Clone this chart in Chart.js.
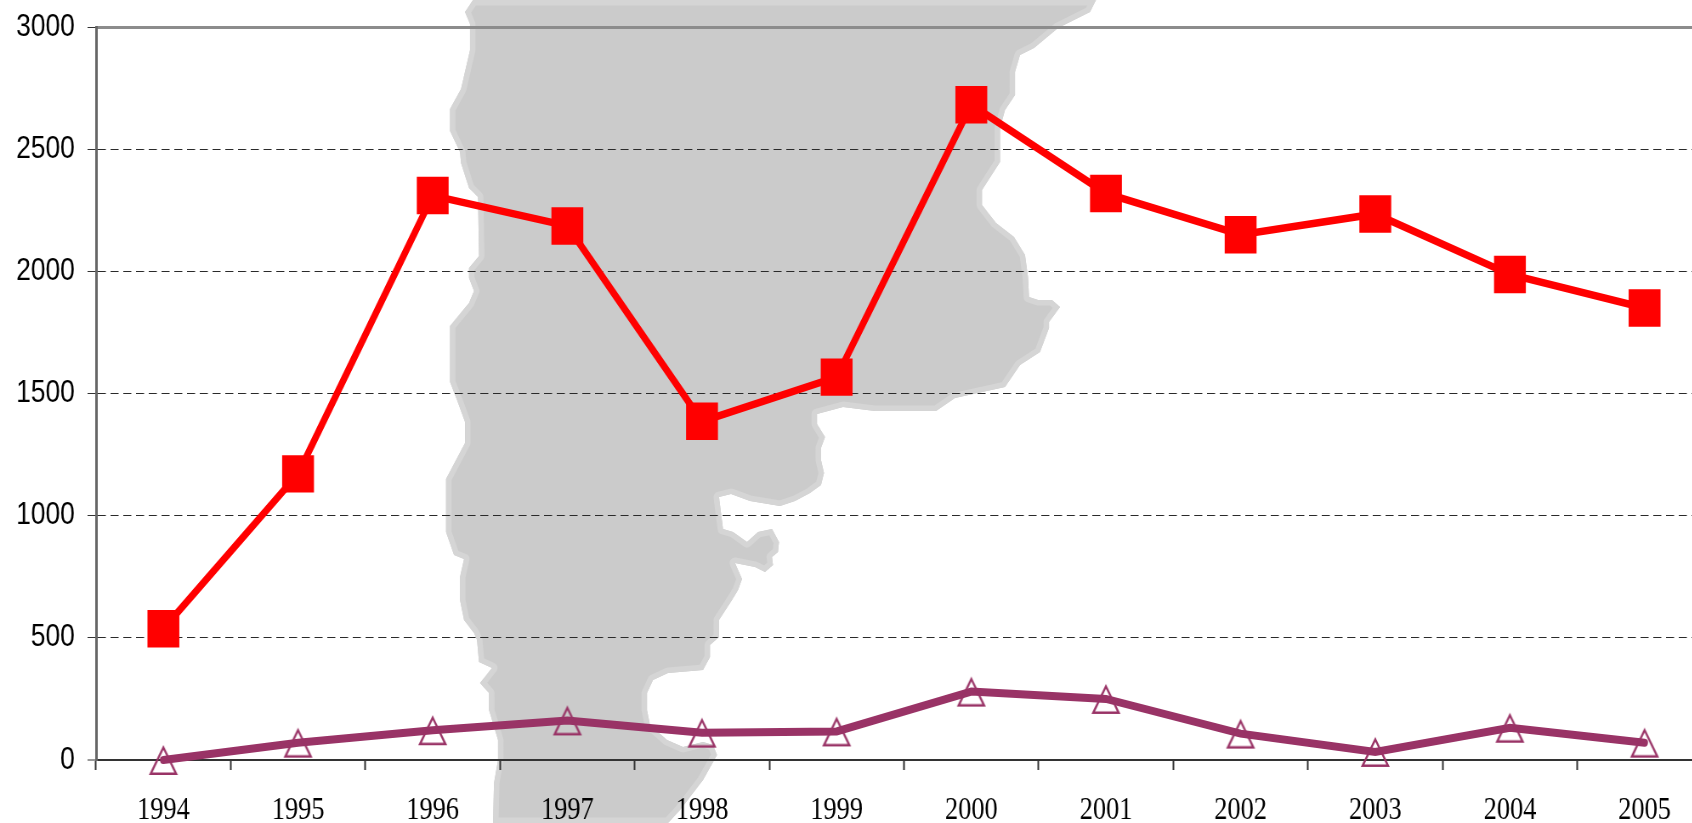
<!DOCTYPE html>
<html>
<head>
<meta charset="utf-8">
<style>
html,body{margin:0;padding:0;background:#fff;width:1692px;height:823px;overflow:hidden}
#wrap{position:absolute;left:0;top:0;width:1692px;height:823px;overflow:hidden}
canvas{position:absolute;left:0;top:0;transform-origin:0 0;transform:scaleX(0.85)}
</style>
<script src="https://cdn.jsdelivr.net/npm/chart.js@4"></script>
</head>
<body>
<div id="wrap"><canvas id="c" width="2014" height="823"></canvas></div>
<script>
const years = ['1994','1995','1996','1997','1998','1999','2000','2001','2002','2003','2004','2005'];
const redValues = [537,1171,2310,2186,1386,1567,2682,2319,2150,2235,1987,1850];
const purpleValues = [0,71,122,162,112,117,280,250,108,33,132,71];
const yMin = 0, yMax = 3000, yStep = 500;

// Decorative backdrop silhouette (image pixels), not chart data
const mapOutline = [[473,0],[465,12],[470,24],[470,50],[461,89],[450,109],[450,131],[460,152],[461,163],[469,188],[478,197],[479,256],[469,268],[469,278],[474,291],[469,303],[450,326],[450,382],[457,400],[465,422],[465,443],[446,479],[446,532],[454,555],[464,559],[460,577],[460,600],[464,620],[474,633],[477,640],[479,662],[492,668],[480,683],[489,693],[489,710],[498,740],[498,760],[494,783],[493,823],[668,823],[680,810],[703,780],[717,755],[713,745],[703,742],[683,747],[667,740],[650,725],[647,710],[647,693],[653,680],[668,673],[703,670],[710,657],[710,645],[719,637],[719,620],[732,600],[738,590],[742,579],[735,563],[755,567],[765,572],[773,565],[772,557],[778,552],[779,542],[772,529],[758,532],[747,542],[733,532],[723,529],[719,497],[731,494],[750,501],[780,506],[795,501],[810,493],[821,485],[824,473],[821,460],[821,448],[825,437],[817,424],[817,414],[843,407],[875,411],[936,411],[955,398],[1005,387],[1020,365],[1040,352],[1049,328],[1049,322],[1060,307],[1052,300],[1038,300],[1029,297],[1028,277],[1025,255],[1014,237],[996,223],[982,205],[982,190],[1000,162],[1000,128],[1005,110],[1015,95],[1015,72],[1020,55],[1034,48],[1058,28],[1090,12],[1096,0]];
const xStretch = 0.85;

const mapPlugin = {
  id:'mapBackdrop',
  beforeDraw(chart){
    const ctx = chart.ctx;
    ctx.save();
    ctx.scale(1/xStretch,1);
    ctx.beginPath();
    mapOutline.forEach((p,i)=> i ? ctx.lineTo(p[0],p[1]) : ctx.moveTo(p[0],p[1]));
    ctx.closePath();
    ctx.fillStyle='#cbcbcb';
    ctx.fill();
    ctx.clip();
    ctx.strokeStyle='#d5d5d5';
    ctx.lineWidth=11;
    ctx.lineJoin='round';
    ctx.stroke();
    ctx.restore();
  }
};

function triangleMarker(){
  const c=document.createElement('canvas');
  c.width=40;c.height=40;
  const g=c.getContext('2d');
  g.strokeStyle='#993366';
  g.lineWidth=2.4;
  g.lineJoin='miter';
  g.miterLimit=6;
  g.beginPath();
  g.moveTo(20,7.5);g.lineTo(35,33.8);g.lineTo(5,33.8);g.closePath();
  g.stroke();
  return c;
}

new Chart(document.getElementById('c'),{
  type:'line',
  data:{labels:years,datasets:[
    {label:'Red',data:redValues,borderColor:'#ff0000',backgroundColor:'#ff0000',borderWidth:7.5,
     pointStyle:'rect',pointRadius:26.5,pointHoverRadius:26.5,pointBorderWidth:0,tension:0,clip:false},
    {label:'Purple',data:purpleValues,borderColor:'#993366',backgroundColor:'#993366',borderWidth:8,
     borderCapStyle:'round',pointStyle:triangleMarker(),pointRadius:15,tension:0,clip:false}
  ]},
  options:{
    responsive:false,animation:false,
    layout:{autoPadding:false,padding:{top:27,left:0,right:0,bottom:0}},
    plugins:{legend:{display:false},tooltip:{enabled:false},title:{display:false}},
    scales:{
      x:{
        type:'category',offset:true,
        afterFit(s){s.height=63;s.paddingLeft=0;s.paddingRight=0;},
        grid:{drawOnChartArea:false,drawTicks:true,tickLength:10,tickColor:'#333',tickWidth:2,offset:true},
        border:{color:'#333',width:2},
        ticks:{maxRotation:0,autoSkip:false,padding:22,color:'#000',font:{family:'"Liberation Serif"',size:31}}
      },
      y:{
        min:yMin,max:yMax,
        afterFit(s){s.width=113;s.paddingTop=0;s.paddingBottom=0;},
        grid:{
          color:c=>c.tick.value===yMax?'#8c8c8c':(c.tick.value===yMin?'#333':'#2a2a2a'),
          lineWidth:c=>c.tick.value===yMax?3:(c.tick.value===yMin?2:1),
          tickLength:10,tickColor:'#333',tickWidth:1
        },
        border:{color:'#666',width:3,dash:c=>(c.tick&&(c.tick.value===yMax||c.tick.value===yMin))?[]:[9.5,5.5]},
        ticks:{stepSize:yStep,padding:15,color:'#000',font:{family:'"Liberation Sans"',size:31},callback:v=>String(v)}
      }
    }
  },
  plugins:[mapPlugin]
});
</script>
</body>
</html>
